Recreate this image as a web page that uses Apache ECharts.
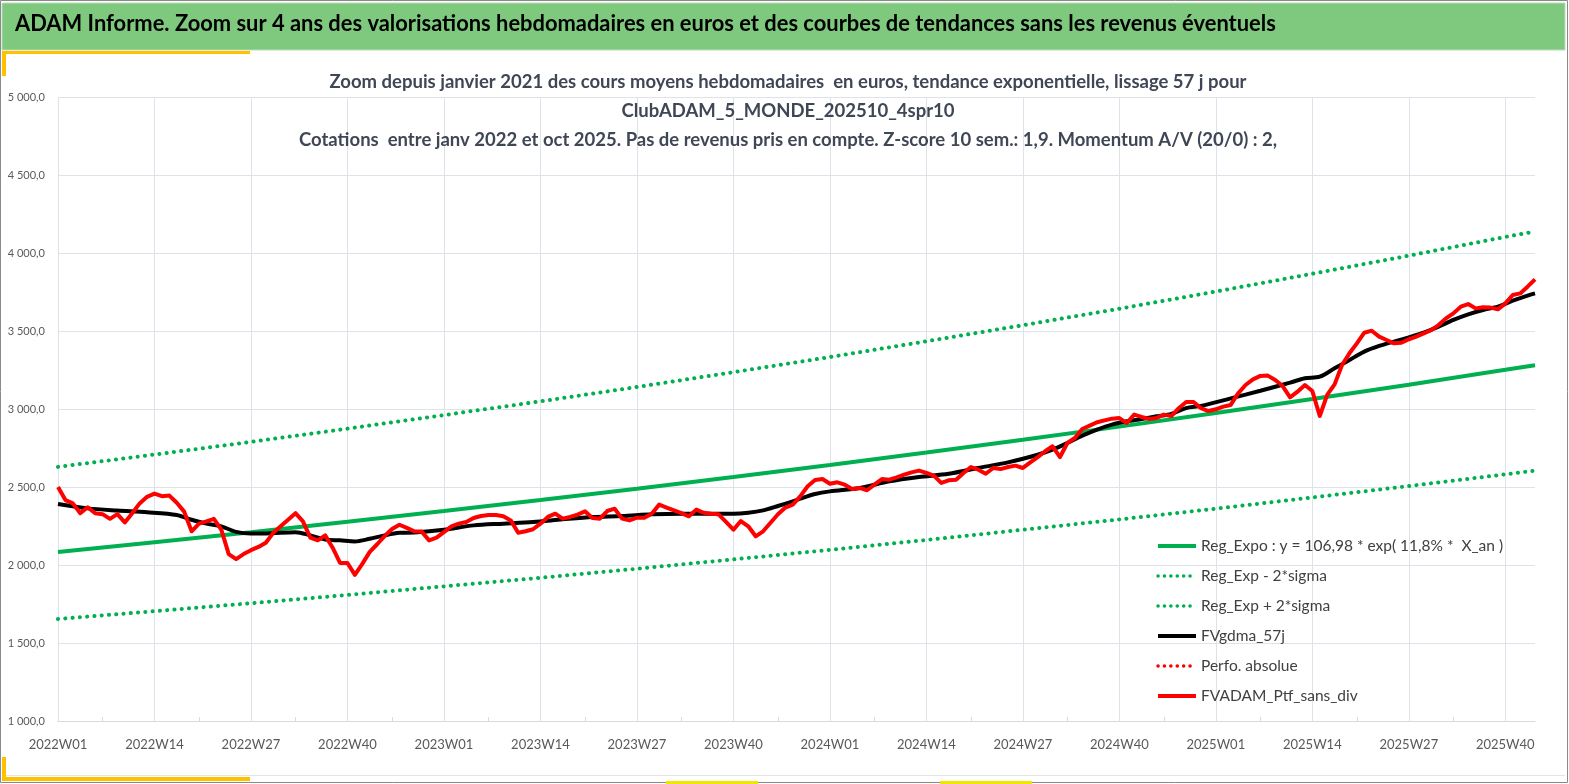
<!DOCTYPE html>
<html>
<head>
<meta charset="utf-8">
<script src="https://cdn.jsdelivr.net/npm/echarts@6/dist/echarts.min.js"></script>
<style>
html,body{margin:0;padding:0;background:#fff;}
#chart{width:1569px;height:784px;}
</style>
</head>
<body>
<div id="chart"></div>
<script>
// ---- Data ----
// Weekly categories 2022W01 .. 2025W44
const years = [2022, 2023, 2024, 2025];
const weeksPerYear = [52, 52, 52, 44];
const categories = [];
years.forEach((y, k) => {
  for (let w = 1; w <= weeksPerYear[k]; w++) categories.push(y + 'W' + (w < 10 ? '0' + w : w));
});

// FVADAM_Ptf_sans_div (weekly values)
const ptfValues = [
  2500,2416,2395,2332,2370,2332,2326,2296,2326,2273,2332,2395,2437,2458,2441,2445,2399,2342,2216,2265,
  2280,2296,2227,2070,2038,2070,2095,2116,2143,2206,2248,2290,2332,2280,2175,2158,2190,2111,2013,2013,
  1937,2007,2084,2133,2185,2231,2258,2238,2216,2214,2158,2175,2211,2248,2265,2276,2301,2314,2320,2320,
  2312,2286,2207,2216,2229,2265,2308,2329,2297,2308,2323,2344,2301,2297,2346,2361,2297,2286,2303,2303,
  2329,2387,2368,2350,2333,2312,2355,2335,2329,2325,2276,2226,2282,2248,2184,2216,2271,2325,2368,2387,
  2440,2505,2545,2551,2521,2530,2515,2487,2494,2479,2515,2551,2547,2562,2579,2594,2605,2590,2573,2526,
  2543,2547,2590,2628,2611,2585,2622,2615,2628,2637,2622,2658,2692,2729,2761,2692,2782,2814,2872,2893,
  2915,2927,2938,2942,2910,2964,2949,2936,2942,2964,2955,3005,3045,3045,3005,2987,2998,3015,3026,3100,
  3154,3190,3212,3214,3186,3147,3075,3111,3154,3115,2955,3090,3158,3282,3357,3421,3489,3502,3464,3442,
  3421,3425,3447,3464,3485,3506,3538,3581,3613,3656,3673,3645,3652,3650,3639,3677,3731,3741,3784,3831
];

// FVgdma_57j (smoothed curve, read at these week indices)
const gdmaWeeks = [0,4,8,12,16,18,20,22,24,26,28,32,34,36,38,40,42,44,46,48,52,56,60,64,68,72,76,80,84,88,91,93,95,97,99,
  100,102,104,108,112,116,120,124,128,132,134,136,138,140,142,144,146,148,150,152,154,158,162,166,168,170,172,174,176,178,
  180,182,184,186,188,190,192,194,196,198,199];
const gdmaValues = [2391,2363,2349,2338,2321,2290,2265,2248,2212,2202,2202,2210,2190,2164,2158,2151,2168,2190,2206,2208,2226,2254,2265,2276,2293,2308,2314,2325,2329,2329,2329,2335,2350,2378,2408,
  2425,2455,2472,2494,2536,2564,2585,2622,2658,2707,2739,2782,2829,2868,2900,2921,2936,2953,2968,3006,3020,3068,3117,3169,3197,3207,3261,3314,3368,3404,
  3432,3459,3489,3528,3571,3607,3635,3656,3694,3727,3741];

// Regression curves read at the grid weeks
const regWeeks = [0,13,26,39,52,65,78,91,104,117,130,143,156,169,182,195,199];
const regExpo  = [2083,2146,2210,2277,2346,2416,2489,2564,2641,2721,2803,2887,2974,3064,3156,3251,3281];
const regMinus = [1654,1704,1755,1808,1863,1918,1976,2036,2097,2160,2226,2292,2361,2433,2506,2581,2605];
const regPlus  = [2629,2708,2789,2874,2961,3049,3141,3236,3333,3434,3537,3643,3753,3867,3983,4103,4138];

const yTicks = { min: 1000, max: 5000, step: 500 };

const seriesNames = [
  'Reg_Expo : y = 106,98 * exp( 11,8% *  X_an )',
  'Reg_Exp - 2*sigma',
  'Reg_Exp + 2*sigma',
  'FVgdma_57j',
  'Perfo. absolue',
  'FVADAM_Ptf_sans_div'
];

const titleText = 'ADAM Informe. Zoom sur 4 ans des valorisations hebdomadaires en euros et des courbes de tendances sans les revenus éventuels';
const subtitleLines = [
  'Zoom depuis janvier 2021 des cours moyens hebdomadaires  en euros, tendance exponentielle, lissage 57 j pour',
  'ClubADAM_5_MONDE_202510_4spr10',
  'Cotations  entre janv 2022 et oct 2025. Pas de revenus pris en compte. Z-score 10 sem.: 1,9. Momentum A/V (20/0) : 2,'
];

// ---- Build ----
const pairs = (xs, ys) => xs.map((x, i) => [x, ys[i]]);
const FONT = 'Lato, "Noto Sans", sans-serif';
const GREEN = '#00B050';
const RED = '#FF0000';
const dotted = { width: 4, type: [0.1, 7.2], cap: 'round' };
const legendDotted = { width: 3.5, type: [0.1, 6.3], cap: 'round' };

function fmtY(v) {
  const th = Math.floor(v / 1000), r = v % 1000;
  return th + ' ' + String(r).padStart(3, '0') + ',0';
}

const legendStyles = [
  { color: GREEN, width: 4, type: 'solid' },
  Object.assign({ color: GREEN }, legendDotted),
  Object.assign({ color: GREEN }, legendDotted),
  { color: '#000', width: 4, type: 'solid' },
  Object.assign({ color: RED }, legendDotted),
  { color: RED, width: 4, type: 'solid' }
];

const chart = echarts.init(document.getElementById('chart'), null, { renderer: 'canvas' });
chart.setOption({
  animation: false,
  backgroundColor: '#ffffff',
  textStyle: { fontFamily: FONT },
  graphic: [
    { type: 'rect', z: 0, shape: { x: 0.5, y: 0.5, width: 1567, height: 782 }, style: { fill: '#fff', stroke: '#8a8a8a', lineWidth: 1 } },
    { type: 'rect', z: 1, shape: { x: 2, y: 3, width: 1563, height: 47 }, style: { fill: '#7FC97F', stroke: '#b9dcb9', lineWidth: 1 } },
    { type: 'text', z: 2, left: 15, top: 13, style: { text: titleText, font: 'bold 21.9px ' + FONT, fill: '#000' } },
    { type: 'rect', z: 2, shape: { x: 2, y: 51, width: 248, height: 3 }, style: { fill: '#FFC000' } },
    { type: 'rect', z: 2, shape: { x: 2, y: 51, width: 4, height: 25 }, style: { fill: '#FFC000' } },
    { type: 'rect', z: 2, shape: { x: 2, y: 757, width: 4, height: 24 }, style: { fill: '#FFC000' } },
    { type: 'rect', z: 2, shape: { x: 2, y: 777, width: 248, height: 4 }, style: { fill: '#FFC000' } },
    { type: 'rect', z: 2, shape: { x: 666, y: 781, width: 92, height: 3 }, style: { fill: '#F2E600' } },
    { type: 'rect', z: 2, shape: { x: 940, y: 781, width: 92, height: 3 }, style: { fill: '#F2E600' } },
    { type: 'rect', z: 2, shape: { x: 6, y: 775, width: 1559, height: 1 }, style: { fill: '#e4e4e4' } },
    {
      type: 'text', z: 3, x: 788, y: 68,
      style: { text: subtitleLines.join('\n'), font: 'bold 18.5px ' + FONT, fill: '#3F4756', align: 'center', lineHeight: 29 }
    }
  ],
  grid: { left: 58, right: 34, top: 97, bottom: 63, containLabel: false },
  legend: {
    orient: 'vertical', left: 1156, top: 536, padding: 0,
    itemWidth: 38, itemHeight: 14, itemGap: 10,
    textStyle: { fontFamily: FONT, fontSize: 15.5, color: '#404040', lineHeight: 20 },
    itemStyle: { opacity: 0 },
    data: seriesNames.map((n, i) => ({ name: n, lineStyle: legendStyles[i], itemStyle: { opacity: 0, borderWidth: 0 } }))
  },
  xAxis: {
    type: 'category', data: categories, boundaryGap: false,
    axisLine: { lineStyle: { color: '#D9D9D9', width: 1 } },
    axisTick: { show: true, inside: true, length: 4, interval: (i) => i % 13 === 6, lineStyle: { color: '#D9D9D9' } },
    axisLabel: { interval: 12, color: '#595959', fontSize: 13, margin: 17, fontFamily: FONT },
    splitLine: { show: true, interval: 12, lineStyle: { color: '#DEE3EA', width: 1 } }
  },
  yAxis: {
    type: 'value', min: yTicks.min, max: yTicks.max, interval: yTicks.step,
    axisLine: { show: false }, axisTick: { show: false },
    axisLabel: { formatter: fmtY, color: '#595959', fontSize: 11, margin: 13, fontFamily: FONT },
    splitLine: { lineStyle: { color: '#DEE3EA', width: 1 } }
  },
  series: [
    { name: seriesNames[0], type: 'line', data: pairs(regWeeks, regExpo), symbol: 'none', color: GREEN, lineStyle: { color: GREEN, width: 4 } },
    { name: seriesNames[1], type: 'line', data: pairs(regWeeks, regMinus), symbol: 'none', color: GREEN, lineStyle: Object.assign({ color: GREEN }, dotted) },
    { name: seriesNames[2], type: 'line', data: pairs(regWeeks, regPlus), symbol: 'none', color: GREEN, lineStyle: Object.assign({ color: GREEN }, dotted) },
    { name: seriesNames[3], type: 'line', data: pairs(gdmaWeeks, gdmaValues), symbol: 'none', smooth: 0.3, color: '#000', lineStyle: { color: '#000', width: 4 } },
    { name: seriesNames[4], type: 'line', data: [], symbol: 'none', color: RED, lineStyle: { color: RED, width: 3, type: [0.1, 6], cap: 'round' } },
    { name: seriesNames[5], type: 'line', data: ptfValues, symbol: 'none', color: RED, lineStyle: { color: RED, width: 4, join: 'round' } }
  ]
});
</script>
</body>
</html>
